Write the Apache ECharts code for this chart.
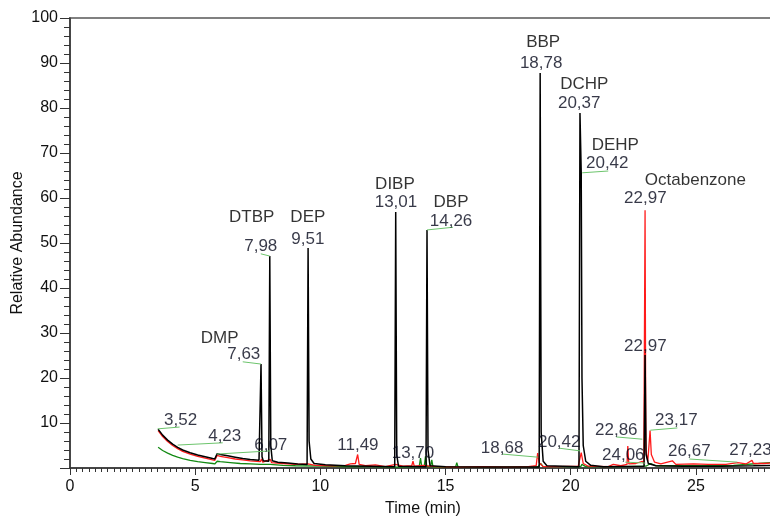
<!DOCTYPE html>
<html>
<head>
<meta charset="utf-8">
<script src="https://cdn.jsdelivr.net/npm/echarts@6/dist/echarts.min.js"></script>
<style>
  html, body { margin: 0; padding: 0; background: #fff; }
  #chart { width: 770px; height: 517px; }
</style>
</head>
<body>
<div id="chart"></div>
<script>
// traces: [time (min), relative abundance]
const blackTrace = [
  [3.52, 8.6], [3.7, 7.3], [3.9, 6.2], [4.1, 5.3], [4.3, 4.6], [4.5, 4.0], [4.8, 3.4], [5.1, 2.9],
  [5.4, 2.5], [5.7, 2.1], [5.78, 2.0], [5.88, 3.2], [6.0, 3.0], [6.3, 2.7], [6.6, 2.4], [6.9, 2.1],
  [7.2, 1.9], [7.55, 1.7], [7.6, 1.8], [7.63, 23.1], [7.67, 2.5], [7.72, 1.6], [7.94, 1.5], [7.98, 47.1],
  [8.02, 5], [8.08, 1.6], [8.3, 1.3], [8.7, 1.1], [9.1, 0.9], [9.47, 0.8], [9.51, 48.9], [9.55, 6],
  [9.62, 2], [9.75, 1.0], [10.2, 0.7], [11, 0.5], [12, 0.4], [12.97, 0.3], [13.01, 56.9], [13.05, 3],
  [13.12, 0.4], [14.22, 0.3], [14.26, 52.9], [14.3, 4], [14.38, 0.5], [15, 0.3], [16.5, 0.2], [18.74, 0.2],
  [18.78, 87.8], [18.82, 8], [18.9, 1.5], [19.05, 0.5], [20.33, 0.3], [20.37, 78.9], [20.42, 65.6], [20.45, 20],
  [20.5, 5], [20.6, 1.5], [20.8, 0.6], [21.3, 0.3], [22.93, 0.4], [22.97, 25.1], [23.01, 3], [23.1, 1.0],
  [23.4, 0.5], [24.5, 0.4], [26, 0.4], [27.3, 0.5], [28.2, 0.6]
];
const redTrace = [
  [3.52, 8.3], [3.7, 7.0], [3.9, 5.9], [4.1, 5.0], [4.3, 4.3], [4.5, 3.7], [4.8, 3.1], [5.1, 2.6],
  [5.4, 2.2], [5.7, 1.8], [5.78, 1.7], [5.88, 2.8], [6.0, 2.6], [6.3, 2.3], [6.6, 2.0], [6.9, 1.8],
  [7.2, 1.6], [7.6, 1.4], [7.65, 2.0], [7.7, 1.3], [8.0, 1.9], [8.05, 1.2], [8.5, 1.0], [9.0, 0.8],
  [9.5, 0.9], [9.8, 0.6], [10.5, 0.5], [11.0, 0.6], [11.2, 0.9], [11.4, 1.0], [11.49, 3.0], [11.55, 0.8],
  [11.8, 0.5], [12.2, 0.7], [12.6, 0.3], [13.0, 0.8], [13.3, 0.4], [13.65, 0.5], [13.7, 1.5], [13.75, 0.4],
  [14.1, 0.6], [14.6, 0.3], [15.5, 0.2], [16.5, 0.3], [17.5, 0.2], [18.3, 0.3], [18.62, 0.5], [18.68, 3.3],
  [18.74, 1.2], [18.9, 0.3], [19.5, 0.3], [20.3, 0.4], [20.42, 3.4], [20.5, 1.0], [20.7, 0.4], [21.5, 0.3],
  [21.7, 0.8], [22.0, 0.5], [22.25, 0.8], [22.28, 4.9], [22.32, 0.9], [22.6, 1.0], [22.86, 1.5], [22.92, 1.0],
  [22.97, 57.3], [23.0, 4], [23.08, 1.5], [23.14, 1.6], [23.17, 8.3], [23.22, 3.0], [23.35, 1.3], [23.6, 0.9],
  [24.06, 1.6], [24.2, 0.8], [24.9, 0.9], [25.5, 0.8], [26.2, 0.8], [26.67, 1.2], [27.0, 0.9], [27.24, 1.7],
  [27.3, 1.0], [27.7, 1.0], [28.2, 1.2]
];
const greenTrace = [
  [3.52, 4.6], [3.7, 3.9], [3.9, 3.3], [4.1, 2.8], [4.3, 2.4], [4.5, 2.1], [4.8, 1.7], [5.1, 1.4],
  [5.4, 1.2], [5.7, 1.0], [5.78, 0.9], [5.88, 1.5], [6.0, 1.4], [6.4, 1.2], [6.8, 1.0], [7.2, 0.9],
  [7.6, 0.8], [8.0, 0.8], [8.5, 0.6], [9.0, 0.5], [10, 0.4], [11, 0.3], [12, 0.3], [13, 0.2],
  [13.95, 0.3], [14.0, 2.2], [14.05, 0.3], [14.15, 0.4], [14.2, 2.6], [14.25, 0.3], [14.4, 0.3], [14.45, 1.8],
  [14.5, 0.2], [15.4, 0.2], [15.45, 1.2], [15.5, 0.2], [17, 0.2], [18.7, 0.3], [18.8, 1.0], [18.9, 0.3],
  [20.4, 0.3], [20.45, 0.8], [20.6, 0.3], [22, 0.3], [23, 0.4], [23.2, 1.0], [23.4, 0.5], [25, 0.5],
  [26.5, 0.6], [27.5, 1.0], [28.2, 1.3]
];

// compound names and where they sit (data units)
const compoundNames = ['DMP', 'DTBP', 'DEP', 'DIBP', 'DBP', 'BBP', 'DCHP', 'DEHP', 'Octabenzone'];
const compoundAt = [[5.98, 28.9], [7.26, 55.6], [9.5, 55.6], [12.98, 63.1], [15.22, 59.1],
  [18.9, 94.7], [20.54, 85.3], [21.78, 71.8], [24.98, 64]];

// retention time labels
const rtLabels = ['3,52', '4,23', '6,07', '7,63', '7,98', '9,51', '11,49', '13,01', '13,70', '14,26',
  '18,68', '18,78', '20,37', '20,42', '20,42', '22,86', '22,97', '22,97', '23,17', '24,06', '26,67', '27,23'];
const rtAt = [[4.42, 10.7], [6.18, 7.1], [8.02, 5.1], [6.94, 25.3], [7.62, 49.3], [9.5, 50.9], [11.5, 5.1],
  [13.02, 59.1], [13.7, 3.3], [15.22, 54.9], [17.26, 4.4], [18.82, 90], [20.34, 81.1], [21.46, 67.6],
  [19.54, 5.8], [21.82, 8.4], [22.98, 60], [22.98, 27.1], [24.22, 10.7], [22.1, 2.9], [24.74, 3.6], [27.18, 4.0]];

// leader lines from peak to label
const leaders = [
  [[3.5, 8.7], [4.38, 9.1]], [[4.3, 5.1], [6.1, 5.6]], [[5.86, 3.1], [8.0, 3.8]], [[7.63, 23.1], [6.9, 23.6]],
  [[7.98, 47.1], [7.62, 47.6]], [[14.26, 52.9], [15.3, 53.5]], [[20.46, 65.6], [21.5, 66]],
  [[18.7, 2.4], [17.26, 3.1]], [[20.38, 3.8], [19.54, 4.4]], [[22.86, 6.4], [21.82, 6.9]],
  [[22.98, 1.1], [22.18, 1.3]], [[23.18, 8.4], [24.26, 8.9]], [[26.66, 1.3], [24.74, 2.0]]
];

const chart = echarts.init(document.getElementById('chart'));

const axisFont = { fontFamily: 'Liberation Sans, Arial, sans-serif', fontSize: 16 };
const labelFont = { fontFamily: 'Liberation Sans, Arial, sans-serif', fontSize: 17 };

const option = {
  animation: false,
  grid: {
    left: 70, right: -6, top: 18, bottom: 49,
    outerBoundsMode: 'none',
    containLabel: false,
    show: true, borderColor: '#808080', borderWidth: 2
  },
  xAxis: {
    type: 'value',
    min: 0, max: 28.2, interval: 5,
    name: 'Time (min)',
    nameLocation: 'middle',
    nameGap: 33,
    nameMoveOverlap: false,
    nameTextStyle: Object.assign({ color: '#111' }, axisFont),
    axisLine: { lineStyle: { color: '#333', width: 1.5 } },
    axisTick: { show: true, length: 7, lineStyle: { color: '#333' } },
    minorTick: { show: true, splitNumber: 20, length: 4, lineStyle: { color: '#333' } },
    axisLabel: Object.assign({
      color: '#111', margin: 11,
      formatter: v => (v % 5 === 0 ? v : '')
    }, axisFont),
    splitLine: { show: false }
  },
  yAxis: {
    type: 'value',
    min: 0, max: 100, interval: 10,
    name: 'Relative Abundance',
    nameLocation: 'middle',
    nameGap: 44,
    nameMoveOverlap: false,
    nameTextStyle: Object.assign({ color: '#111' }, axisFont),
    axisLine: { show: true, lineStyle: { color: '#333', width: 1.5 } },
    axisTick: { show: true, length: 10, lineStyle: { color: '#333' } },
    minorTick: { show: true, splitNumber: 5, length: 6, lineStyle: { color: '#333' } },
    axisLabel: Object.assign({
      color: '#111', margin: 12,
      formatter: v => (v === 0 ? '' : v)
    }, axisFont),
    splitLine: { show: false }
  },
  series: [
    {
      name: 'green', type: 'line', data: greenTrace, symbol: 'none',
      lineStyle: { color: '#138a13', width: 1.3 }, z: 2
    },
    {
      name: 'red', type: 'line', data: redTrace, symbol: 'none',
      lineStyle: { color: '#ff1a1a', width: 1.3 }, z: 3
    },
    {
      name: 'black', type: 'line', data: blackTrace, symbol: 'none',
      lineStyle: { color: '#000', width: 1.5 }, z: 4
    },
    {
      name: 'compounds', type: 'scatter', z: 6, silent: true,
      symbolSize: 1, itemStyle: { color: 'rgba(0,0,0,0)' },
      data: compoundNames.map((n, i) => ({ name: n, value: compoundAt[i] })),
      label: Object.assign({ show: true, position: 'inside', formatter: '{b}', color: '#000' }, labelFont)
    },
    {
      name: 'rt', type: 'scatter', z: 6, silent: true,
      symbolSize: 1, itemStyle: { color: 'rgba(0,0,0,0)' },
      data: rtLabels.map((n, i) => ({ name: n, value: rtAt[i] })),
      label: Object.assign({ show: true, position: 'inside', formatter: '{b}', color: '#05081a' }, labelFont),
      markLine: {
        silent: true, symbol: 'none',
        lineStyle: { color: '#6cc46c', width: 1, type: 'solid' },
        label: { show: false },
        data: leaders.map(l => [{ coord: l[0] }, { coord: l[1] }])
      }
    }
  ]
};

chart.setOption(option);
</script>
</body>
</html>
